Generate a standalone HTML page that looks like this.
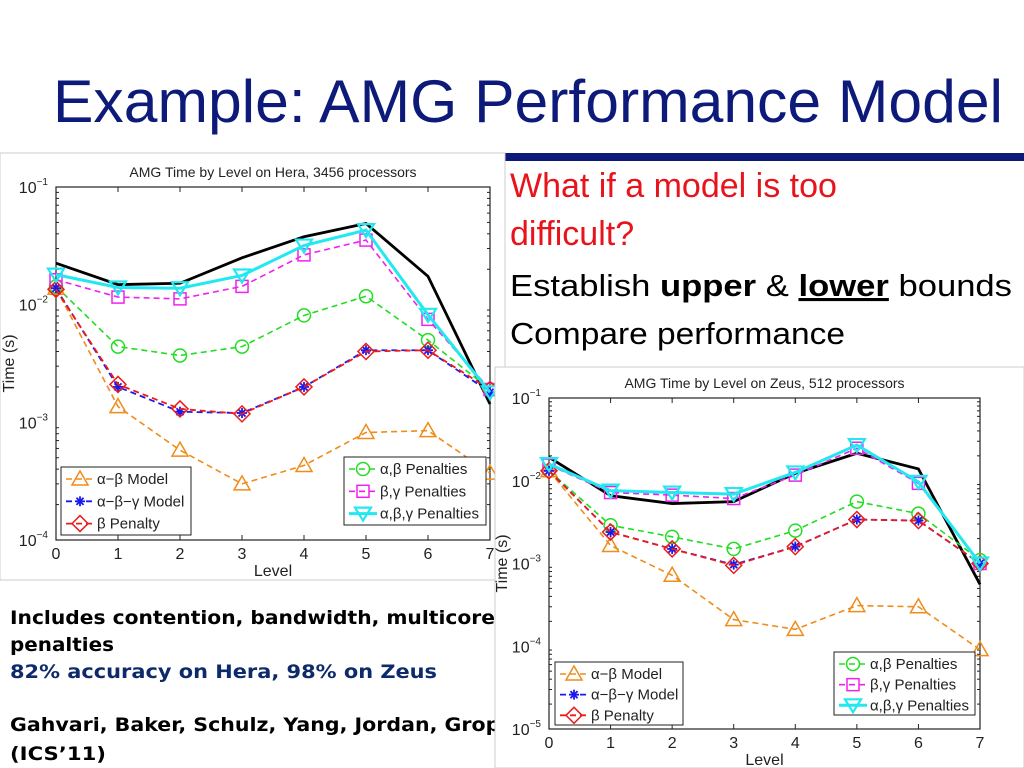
<!DOCTYPE html>
<html><head><meta charset="utf-8"><style>
html,body{margin:0;padding:0;background:#fff;width:1024px;height:768px;overflow:hidden}
svg{display:block}
text{font-family:"Liberation Sans",sans-serif}
text.dv{font-family:"DejaVu Sans",sans-serif;font-weight:bold}
</style></head><body>
<svg id="s" width="1024" height="768" viewBox="0 0 1024 768" xmlns="http://www.w3.org/2000/svg">
<text x="528" y="122" text-anchor="middle" font-size="60" fill="#0d1a7a" textLength="950" lengthAdjust="spacingAndGlyphs">Example: AMG Performance Model</text>
<rect x="505" y="153" width="519" height="8" fill="#0d1a7a"/>
<text x="510" y="197" font-size="34" fill="#e8141c">What if a model is too</text>
<text x="510" y="245" font-size="34" fill="#e8141c">difficult?</text>
<text x="510" y="296" font-size="31" fill="#000" textLength="502" lengthAdjust="spacingAndGlyphs">Establish <tspan font-weight="bold">upper</tspan> &amp; <tspan font-weight="bold" text-decoration="underline">lower</tspan> bounds</text>
<text x="510" y="344" font-size="31" fill="#000" textLength="335" lengthAdjust="spacingAndGlyphs">Compare performance</text>
<text class="dv" x="10" y="624" font-size="19" textLength="485" lengthAdjust="spacingAndGlyphs">Includes contention, bandwidth, multicore</text>
<text class="dv" x="10" y="651" font-size="19" textLength="104" lengthAdjust="spacingAndGlyphs">penalties</text>
<text class="dv" x="10" y="678" font-size="19" fill="#0d2a6a" textLength="427" lengthAdjust="spacingAndGlyphs">82% accuracy on Hera, 98% on Zeus</text>
<text class="dv" x="10" y="731" font-size="19" textLength="505" lengthAdjust="spacingAndGlyphs">Gahvari, Baker, Schulz, Yang, Jordan, Gropp</text>
<text class="dv" x="10" y="760" font-size="19" textLength="96" lengthAdjust="spacingAndGlyphs">(ICS’11)</text>
<text x="996" y="758" font-size="16" fill="#c00">o</text>
</svg>
<script>
const levels=[0,1,2,3,4,5,6,7];
const heraMeasured=[0.0225,0.0148,0.0152,0.025,0.0378,0.049,0.0174,0.00143];
const heraABG=[0.018,0.014,0.0138,0.0177,0.0318,0.043,0.0082,0.0018];
const heraBG=[0.0163,0.0116,0.0112,0.0143,0.0265,0.0354,0.0075,0.0019];
const heraAB=[0.0143,0.0044,0.0037,0.0044,0.0081,0.0118,0.005,0.0019];
const heraAlphaBetaGamma=[0.0138,0.002,0.00123,0.0012,0.002,0.0041,0.0041,0.0018];
const heraBeta=[0.0135,0.0021,0.0013,0.00118,0.002,0.004,0.0041,0.0019];
const heraAlphaBeta=[0.0138,0.00136,0.00058,0.0003,0.00043,0.00082,0.00085,0.00037];
const zeusMeasured=[0.0192,0.0066,0.0053,0.0056,0.0123,0.0215,0.0139,0.00056];
const zeusABG=[0.0159,0.0076,0.0072,0.0069,0.0126,0.027,0.0097,0.001];
const zeusBG=[0.0155,0.0072,0.0067,0.0061,0.0117,0.0247,0.0093,0.001];
const zeusAB=[0.0132,0.0029,0.0021,0.0015,0.0025,0.0056,0.004,0.0011];
const zeusAlphaBetaGamma=[0.0132,0.0024,0.0015,0.00097,0.0016,0.0034,0.0033,0.001];
const zeusBeta=[0.0132,0.0024,0.0015,0.00095,0.0016,0.0034,0.0033,0.001];
const zeusAlphaBeta=[0.0132,0.00165,0.00072,0.00021,0.00016,0.00031,0.0003,0.000091];
const heraTicks=[-1,-2,-3,-4];
const zeusTicks=[-1,-2,-3,-4,-5];

const NS='http://www.w3.org/2000/svg';
const svg=document.getElementById('s');
function mk(tag,attrs,parent){const e=document.createElementNS(NS,tag);for(const k in attrs)e.setAttribute(k,attrs[k]);(parent||svg).appendChild(e);return e;}
function marker(g,type,x,y,col){
  if(type==='tri'){mk('polygon',{points:`${x},${y-8} ${x-8},${y+6} ${x+8},${y+6}`,fill:'none',stroke:col,'stroke-width':1.5},g);}
  else if(type==='vtri'){mk('polygon',{points:`${x},${y+7} ${x-8},${y-6} ${x+8},${y-6}`,fill:'none',stroke:col,'stroke-width':2.2},g);}
  else if(type==='circ'){mk('circle',{cx:x,cy:y,r:6.5,fill:'none',stroke:col,'stroke-width':1.5},g);}
  else if(type==='sq'){mk('rect',{x:x-6,y:y-6,width:12,height:12,fill:'none',stroke:col,'stroke-width':1.5},g);}
  else if(type==='dia'){mk('polygon',{points:`${x},${y-8} ${x+8},${y} ${x},${y+8} ${x-8},${y}`,fill:'none',stroke:col,'stroke-width':1.5},g);}
  else if(type==='star'){for(const a of [0,45,90,135]){const r=a*Math.PI/180;mk('line',{x1:x-5*Math.cos(r),y1:y-5*Math.sin(r),x2:x+5*Math.cos(r),y2:y+5*Math.sin(r),stroke:col,'stroke-width':1.8},g);}}
}
function chart(o){
  const g=mk('g',{});
  
  
  const bg=mk('rect',{x:o.px,y:o.py,width:o.pw,height:o.ph,fill:'#fff',stroke:'#ccc','stroke-width':1},g);
  
  
  const top=o.ticks[0],bot=o.ticks[o.ticks.length-1];
  const X=v=>o.x0+(o.x1-o.x0)*v/7;
  const Y=v=>o.y0+(o.y1-o.y0)*(top-Math.log10(v))/(top-bot);
  const Yl=l=>o.y0+(o.y1-o.y0)*(top-l)/(top-bot);
  const t=mk('text',{x:(o.x0+o.x1)/2,y:o.y0-10,'text-anchor':'middle','font-size':14,fill:'#222'},g);t.textContent=o.title;
  
  
  mk('rect',{x:o.x0,y:o.y0,width:o.x1-o.x0,height:o.y1-o.y0,fill:'none',stroke:'#222','stroke-width':1.2},g);
  o.ticks.forEach(l=>{const y=Yl(l);
    const tl=mk('text',{x:o.x0-8,y:y+6,'text-anchor':'end','font-size':16,fill:'#222'},g);tl.innerHTML=`10<tspan dy="-8" font-size="10">\u2212${-l}</tspan>`;
    
    
    if(l!==bot)for(let k=2;k<10;k++){const yy=Yl(l-1+Math.log10(k));mk('line',{x1:o.x0,y1:yy,x2:o.x0+3,y2:yy,stroke:'#222'},g);mk('line',{x1:o.x1,y1:yy,x2:o.x1-3,y2:yy,stroke:'#222'},g);}
  });
  levels.forEach(v=>{const x=X(v);
    const tl=mk('text',{x:x,y:o.y1+19,'text-anchor':'middle','font-size':16,fill:'#222'},g);tl.textContent=v;
    
    
    mk('line',{x1:x,y1:o.y1,x2:x,y2:o.y1-5,stroke:'#222'},g);mk('line',{x1:x,y1:o.y0,x2:x,y2:o.y0+5,stroke:'#222'},g);});
  const xl=mk('text',{x:(o.x0+o.x1)/2,y:o.y1+36,'text-anchor':'middle','font-size':16,fill:'#222'},g);xl.textContent='Level';
  
  
  const yl=mk('text',{x:0,y:0,'text-anchor':'middle','font-size':16,fill:'#222',transform:`translate(${o.x0-42},${(o.y0+o.y1)/2}) rotate(-90)`},g);yl.textContent='Time (s)';
  
  
  o.series.forEach(s=>{
    const sg=mk('g',{},g);
    
    
    const pts=s.data.map((v,i)=>`${X(levels[i])},${Y(v)}`).join(' ');
    mk('polyline',{points:pts,fill:'none',stroke:s.col,'stroke-width':s.w,'stroke-dasharray':s.dash||'none'},sg);
    if(s.m)s.data.forEach((v,i)=>marker(sg,s.m,X(levels[i]),Y(v),s.col));
  });
  o.legends.forEach(L=>{
    const lg=mk('g',{},g);
    
    
    mk('rect',{x:L.x,y:L.y,width:L.w,height:L.h,fill:'#fff',stroke:'#222'},lg);
    L.items.forEach((it,i)=>{const s=o.series.find(q=>q.id===it[0]);const yy=L.y+12+i*L.h/3.05;
      mk('line',{x1:L.x+5,y1:yy,x2:L.x+33,y2:yy,stroke:s.col,'stroke-width':s.w,'stroke-dasharray':s.dash||'none'},lg);
      marker(lg,s.m,L.x+19,yy,s.col);
      const tt=mk('text',{x:L.x+36,y:yy+5,'font-size':15,fill:'#222'},lg);tt.textContent=it[1];
      
      
    });
  });
}
function series(m,ab,abg,b,bg,abgp,a){return [
 {id:'measured',data:m,col:'#000',w:2.8},
 {id:'alpha-beta-penalties',data:ab,col:'#22dd22',w:1.6,dash:'6,4',m:'circ'},
 {id:'beta-gamma-penalties',data:bg,col:'#ee22ee',w:1.6,dash:'6,4',m:'sq'},
 {id:'alpha-beta-model',data:a,col:'#f08c1a',w:1.6,dash:'6,4',m:'tri'},
 {id:'alpha-beta-gamma-model',data:abg,col:'#1a1aee',w:1.8,dash:'6,4',m:'star'},
 {id:'beta-penalty',data:b,col:'#ee1a1a',w:1.8,dash:'6,4',m:'dia'},
 {id:'abg-penalties',data:abgp,col:'#22e8f0',w:3,m:'vtri'}];}
const leg1=[['alpha-beta-model','α−β Model'],['alpha-beta-gamma-model','α−β−γ Model'],['beta-penalty','β Penalty']];
const leg2=[['alpha-beta-penalties','α,β Penalties'],['beta-gamma-penalties','β,γ Penalties'],['abg-penalties','α,β,γ Penalties']];
chart({name:'hera-chart',title:'AMG Time by Level on Hera, 3456 processors',px:0,py:153,pw:505,ph:427,x0:56,x1:490,y0:187,y1:540,ticks:heraTicks,
 series:series(heraMeasured,heraAB,heraAlphaBetaGamma,heraBeta,heraBG,heraABG,heraAlphaBeta),
 legends:[{x:61,y:467,w:130,h:68,items:leg1},{x:344,y:457,w:142,h:68,items:leg2}]});
chart({name:'zeus-chart',title:'AMG Time by Level on Zeus, 512 processors',px:495,py:367,pw:529,ph:401,x0:549,x1:980,y0:398,y1:729,ticks:zeusTicks,
 series:series(zeusMeasured,zeusAB,zeusAlphaBetaGamma,zeusBeta,zeusBG,zeusABG,zeusAlphaBeta),
 legends:[{x:555,y:662,w:128,h:63,items:leg1},{x:834,y:652,w:141,h:63,items:leg2}]});
</script>
</body></html>
